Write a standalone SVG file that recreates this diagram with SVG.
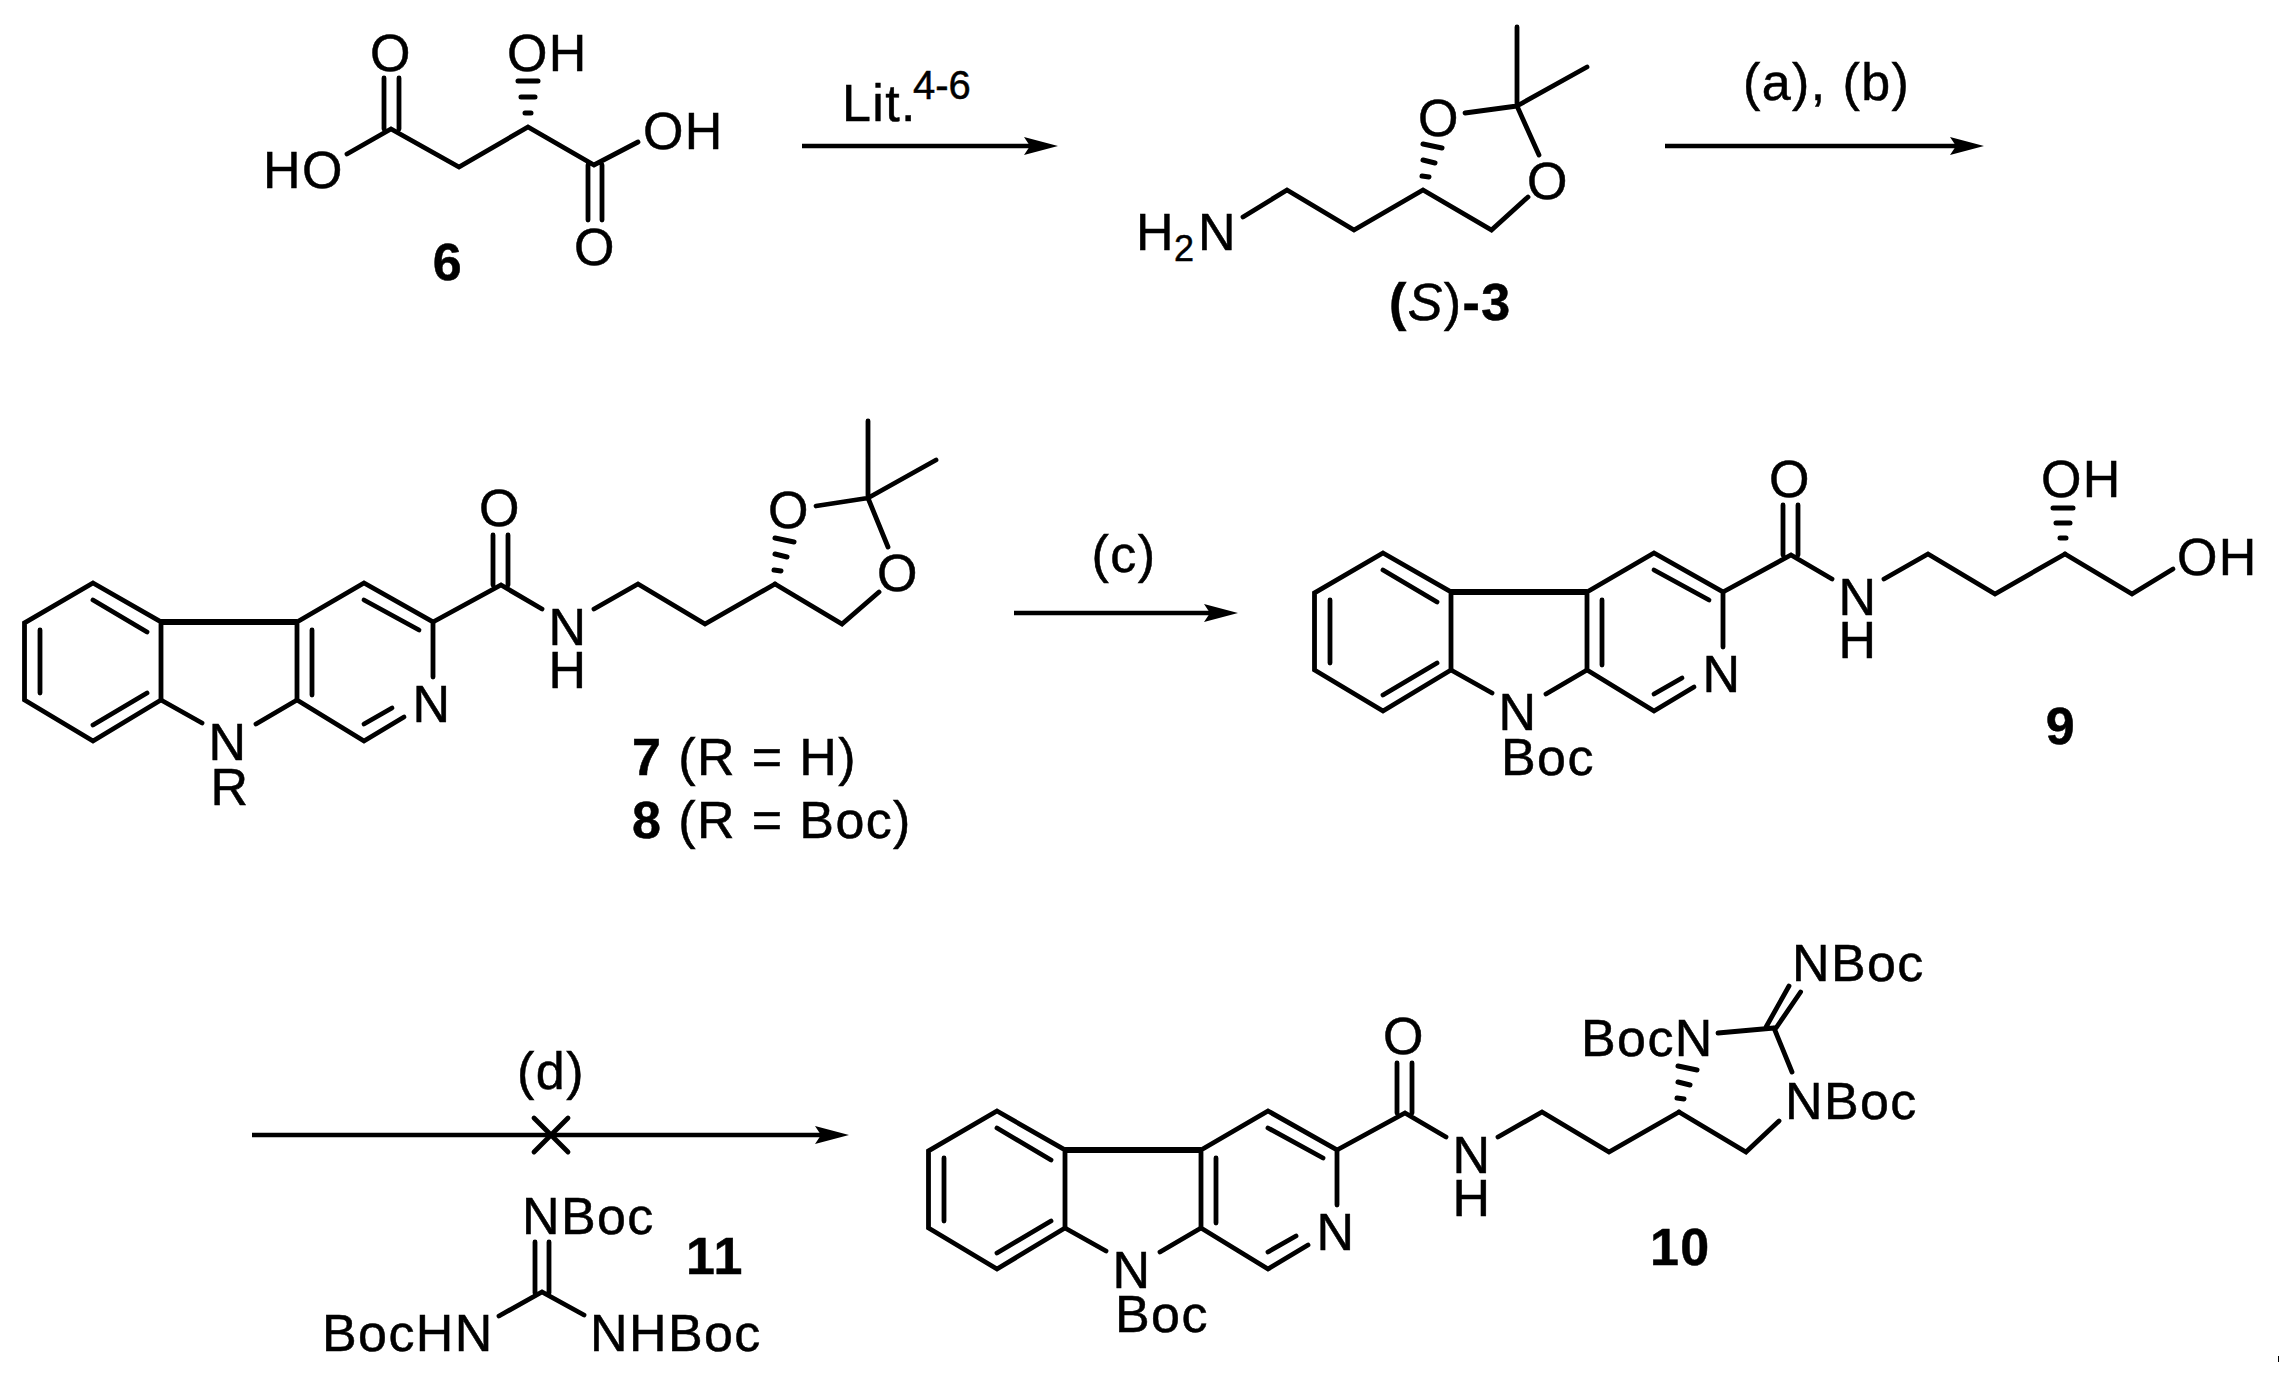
<svg xmlns="http://www.w3.org/2000/svg" xmlns:xlink="http://www.w3.org/1999/xlink" width="2279" height="1380" viewBox="0 0 2279 1380">
<style>
text{font-family:"Liberation Sans",Arial,sans-serif;font-size:52px;fill:#000;stroke:#000;stroke-width:.5;letter-spacing:1.4px}
.m{text-anchor:middle}
.b{font-weight:bold}
.s{font-size:40px}
.bond{fill:none;stroke:#000;stroke-width:4.8;stroke-linejoin:miter;stroke-linecap:round}
.thick{fill:none;stroke:#000;stroke-width:6}
.hash{fill:none;stroke:#000;stroke-width:5;stroke-linecap:round}
.arrow{fill:none;stroke:#000;stroke-width:4.6}
</style>
<defs>
<marker id="head" markerUnits="userSpaceOnUse" markerWidth="40" markerHeight="24" refX="6" refY="12" orient="auto"><path d="M0 3L34 12L0 21L6 12Z" fill="#000"/></marker>
<g id="core">
<path class="bond" d="M93 583L161 622L161 700L93 741L24.5 700L24.5 623Z"/>
<path class="bond" d="M93 600L147 632M40 630V693M93 725L147 693M161 700L202 723M297 700L256 724"/>
<path class="bond" d="M297 622L364 583L433 622V677M297 622V700L364 741L404 717M312 630V695M364 600L419 630M364 724L392 708"/>
<path class="thick" d="M161 622H297"/>
<path class="bond" d="M433 622L501 585L542 609M493 535V585M508 535V585M594 609L638 584L705 624L775 584"/>
</g>
</defs>
<rect width="2279" height="1380" fill="#fff"/>

<g id="connectors">
<line class="arrow" x1="802" y1="146" x2="1030" y2="146" marker-end="url(#head)"/>
<line class="arrow" x1="1665" y1="146" x2="1956" y2="146" marker-end="url(#head)"/>
<line class="arrow" x1="1014" y1="613" x2="1210" y2="613" marker-end="url(#head)"/>
<line class="arrow" x1="252" y1="1135" x2="821" y2="1135" marker-end="url(#head)"/>
<path class="bond" d="M534 1118L568 1152M568 1118L534 1152"/>
</g>

<g id="arrow-labels">
<text x="842" y="121">Lit.</text><text class="s" x="913" y="99" style="letter-spacing:0">4-6</text>
<text x="1743" y="100">(a), (b)</text>
<text class="m" x="1124" y="572">(c)</text>
<text class="m" x="551" y="1089">(d)</text>
</g>

<g id="compound-6">
<path class="bond" d="M347 154L391 129L459 167L528 127L594 165L638 142M384 78V129M399 78V129M588 165V220M602 165V220"/>
<path class="hash" d="M518 81H538M521 97H535M525 113H531"/>
<text class="m" x="391" y="71">O</text>
<text x="507" y="71">OH</text>
<text x="643" y="149">OH</text>
<text x="263" y="188">HO</text>
<text class="m" x="595" y="265">O</text>
<text class="b m" x="448" y="280">6</text>
</g>

<g id="compound-S3">
<path class="bond" d="M1243 217L1287 190L1354 230L1423 190L1491.5 230L1528 197M1517 27V106M1517 106L1587 67M1517 106L1465 113M1517 106L1539 155"/>
<path class="hash" d="M1423 144L1442 148M1423 160L1435 163M1422 176L1429 177"/>
<text x="1136" y="250">H<tspan x="1174" y="261" style="font-size:36px">2</tspan><tspan x="1198" y="250">N</tspan></text>
<text class="m" x="1439" y="136">O</text>
<text class="m" x="1548" y="199">O</text>
<text x="1389" y="320"><tspan class="b">(</tspan><tspan style="font-style:italic">S</tspan>)<tspan class="b">-3</tspan></text>
</g>

<g id="compound-7-8">
<use xlink:href="#core" href="#core"/>
<path class="bond" d="M775 584L842 624L879 592M868 421V498M868 498L936 460M868 498L816 506M868 498L888 547"/>
<path class="hash" d="M775 538L794 542M775 554L787 557M774 570L781 571"/>
<text class="m" x="228" y="760">N</text>
<text class="m" x="230" y="805">R</text>
<text class="m" x="432" y="722">N</text>
<text class="m" x="500" y="526">O</text>
<text class="m" x="568" y="645">N</text>
<text class="m" x="568" y="688">H</text>
<text class="m" x="789" y="528">O</text>
<text class="m" x="898" y="591">O</text>
<text x="632" y="775"><tspan class="b">7</tspan> (R = H)</text>
<text x="632" y="838"><tspan class="b">8</tspan> (R = Boc)</text>
</g>

<g id="compound-9">
<use xlink:href="#core" href="#core" x="1290" y="-30"/>
<path class="bond" d="M2065 554L2132 594L2173 569"/>
<path class="hash" d="M2053 508H2073M2056 523H2070M2060 538H2066"/>
<text class="m" x="1518" y="730">N</text>
<text x="1501" y="775">Boc</text>
<text class="m" x="1722" y="692">N</text>
<text class="m" x="1790" y="497">O</text>
<text class="m" x="1858" y="615">N</text>
<text class="m" x="1858" y="658">H</text>
<text x="2041" y="497">OH</text>
<text x="2177" y="575">OH</text>
<text class="b m" x="2061" y="744">9</text>
</g>

<g id="compound-10">
<use xlink:href="#core" href="#core" x="904" y="528"/>
<path class="bond" d="M1679 1112L1746 1152L1779 1121M1774 1028L1792 1072M1774 1028L1718 1033M1789 986L1765.5 1028M1800.6 992L1776 1028"/>
<path class="hash" d="M1678 1066L1697 1070M1678 1082L1690 1085M1677 1098L1684 1099"/>
<text class="m" x="1132" y="1288">N</text>
<text x="1115" y="1332">Boc</text>
<text class="m" x="1336" y="1250">N</text>
<text class="m" x="1404" y="1054">O</text>
<text class="m" x="1472" y="1173">N</text>
<text class="m" x="1472" y="1216">H</text>
<text x="1792" y="981">NBoc</text>
<text x="1581" y="1056">BocN</text>
<text x="1785" y="1119">NBoc</text>
<text class="b" x="1650" y="1265">10</text>
</g>

<g id="compound-11">
<path class="bond" d="M535 1242V1293M549 1242V1293M499 1316L542 1292L584 1315"/>
<text x="522" y="1234">NBoc</text>
<text x="322" y="1351">BocHN</text>
<text x="590" y="1351">NHBoc</text>
<text class="b" x="686" y="1274">11</text>
</g>
<rect x="2278" y="1356" width="1" height="6" fill="#000"/>
</svg>
